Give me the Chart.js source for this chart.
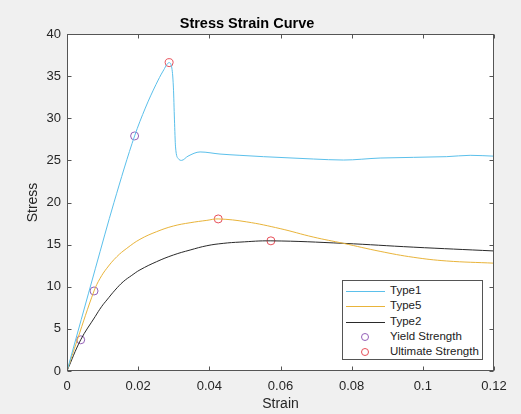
<!DOCTYPE html>
<html>
<head>
<meta charset="utf-8">
<script src="https://cdn.jsdelivr.net/npm/chart.js@4/dist/chart.umd.min.js"></script>
<style>
  html, body { margin: 0; padding: 0; background: #F0F0F0; }
  #wrap { position: relative; width: 521px; height: 414px; }
  #legend { position: absolute; left: 342px; top: 280px; width: 141px; height: 80px;
    background: #fff; border: 1px solid #555; box-sizing: border-box;
    font-family: 'Liberation Sans', Arial, sans-serif; font-size: 11.5px; color: #222; }
  .row { position: absolute; left: 0; height: 14px; width: 140px; }
  .row .ln { position: absolute; left: 3px; top: 6px; width: 39px; height: 0; border-top: 1px solid; }
  .row .mk { position: absolute; left: 18px; top: 2px; width: 8px; height: 8px; border-radius: 50%; border: 1px solid; box-sizing: border-box; }
  .row .tx { position: absolute; left: 47px; top: -1px; white-space: nowrap; }
</style>
</head>
<body>
<div id="wrap">
  <canvas id="c" width="521" height="414"></canvas>
  <div id="legend"></div>
</div>
<script>
// ---- data ----
const type1X = [0, 0.004, 0.008, 0.0132, 0.019, 0.022, 0.025, 0.027, 0.0287, 0.0294, 0.0299, 0.0302, 0.0305, 0.0313, 0.0322, 0.034, 0.0374, 0.043, 0.0486, 0.0552, 0.0693, 0.0777, 0.088, 0.1067, 0.1133, 0.12];
const type1Y = [0, 6.1, 12.2, 20, 27.9, 31.2, 34.0, 35.6, 36.6, 36.1, 33.7, 29.8, 26.6, 25.2, 25.0, 25.5, 26.0, 25.75, 25.6, 25.44, 25.16, 25.04, 25.28, 25.44, 25.6, 25.5];
const type5X = [0, 0.0029, 0.0076, 0.0093, 0.0112, 0.014, 0.0168, 0.0205, 0.0252, 0.0299, 0.0346, 0.0393, 0.0425, 0.0505, 0.0599, 0.0692, 0.0777, 0.088, 0.0973, 0.1067, 0.12];
const type5Y = [0, 3.7, 9.5, 11.0, 12.2, 13.57, 14.56, 15.63, 16.54, 17.21, 17.6, 17.88, 18.05, 17.7, 16.9, 15.9, 15.15, 14.2, 13.5, 13.06, 12.8];
const type2X = [0, 0.00385, 0.0079, 0.0097, 0.0112, 0.0135, 0.0158, 0.0182, 0.0205, 0.0252, 0.0299, 0.0346, 0.0393, 0.0439, 0.0486, 0.0573, 0.0777, 0.0973, 0.12];
const type2Y = [0, 3.7, 6.45, 7.63, 8.43, 9.6, 10.6, 11.35, 12.0, 12.98, 13.77, 14.36, 14.87, 15.15, 15.3, 15.45, 15.15, 14.7, 14.25];
const yieldX = [0.019, 0.0076, 0.00385];
const yieldY = [27.9, 9.5, 3.7];
const ultX = [0.0287, 0.0425, 0.0573];
const ultY = [36.6, 18.05, 15.45];
const xTicks = [0, 0.02, 0.04, 0.06, 0.08, 0.1, 0.12];
const yTicks = [0, 5, 10, 15, 20, 25, 30, 35, 40];
const seriesNames = ['Type1', 'Type5', 'Type2', 'Yield Strength', 'Ultimate Strength'];
const colors = ['#5BC0EB', '#E9B43A', '#2a2a2a', '#9460B8', '#E8505A'];

const pts = (xs, ys) => xs.map((x, i) => ({x: x, y: ys[i]}));
const FONT = "'Liberation Sans', Arial, sans-serif";

const lineDs = (label, data, color, mono) => ({
  label, data, borderColor: color, borderWidth: 1, showLine: true, pointRadius: 0,
  cubicInterpolationMode: mono ? 'monotone' : 'default', tension: 0.4, fill: false
});
const markDs = (label, data, color) => ({
  label, data, borderColor: color, backgroundColor: 'rgba(0,0,0,0)', borderWidth: 1,
  showLine: false, pointRadius: 4, pointStyle: 'circle'
});

const boxPlugin = {
  id: 'box',
  beforeDraw(chart) {
    const {ctx, chartArea: a} = chart;
    ctx.save(); ctx.fillStyle = '#fff';
    ctx.fillRect(a.left, a.top, a.right - a.left, a.bottom - a.top);
    ctx.restore();
  },
  afterDraw(chart) {
    const {ctx, chartArea: a, scales} = chart;
    ctx.save();
    ctx.strokeStyle = '#555'; ctx.lineWidth = 1;
    const L = Math.round(a.left) + 0.5, R = Math.round(a.right) - 0.5, T = Math.round(a.top) + 0.5, B = Math.round(a.bottom) - 0.5;
    ctx.strokeRect(L, T, R - L, B - T);
    ctx.beginPath();
    const tl = 4;
    scales.x.ticks.forEach(t => {
      const px = Math.round(scales.x.getPixelForValue(t.value)) + 0.5;
      ctx.moveTo(px, B); ctx.lineTo(px, B - tl);
      ctx.moveTo(px, T); ctx.lineTo(px, T + tl);
    });
    scales.y.ticks.forEach(t => {
      const py = Math.round(scales.y.getPixelForValue(t.value)) + 0.5;
      ctx.moveTo(L, py); ctx.lineTo(L + tl, py);
      ctx.moveTo(R, py); ctx.lineTo(R - tl, py);
    });
    ctx.stroke();
    ctx.restore();
  }
};

new Chart(document.getElementById('c'), {
  type: 'scatter',
  data: {
    datasets: [
      lineDs(seriesNames[0], pts(type1X, type1Y), colors[0], true),
      lineDs(seriesNames[1], pts(type5X, type5Y), colors[1], false),
      lineDs(seriesNames[2], pts(type2X, type2Y), colors[2], false),
      markDs(seriesNames[3], pts(yieldX, yieldY), colors[3]),
      markDs(seriesNames[4], pts(ultX, ultY), colors[4])
    ]
  },
  options: {
    responsive: false, animation: false, devicePixelRatio: 1,
    layout: { padding: { left: 0, right: 27, top: 0, bottom: 0 } },
    plugins: {
      legend: { display: false },
      tooltip: { enabled: false },
      title: { display: true, text: 'Stress Strain Curve', color: '#000',
        font: { family: FONT, size: 14.5, weight: 'bold' }, padding: { top: 15.3, bottom: 1.3 } }
    },
    scales: {
      x: {
        type: 'linear', min: 0, max: 0.12,
        afterBuildTicks: s => { s.ticks = xTicks.map(v => ({value: v})); },
        afterFit: s => { s.height = 43; },
        grid: { display: false, drawTicks: false }, border: { display: false },
        ticks: { color: '#262626', padding: 8, font: { family: FONT, size: 13 },
          callback: v => String(+v.toFixed(2)), maxRotation: 0 },
        title: { display: true, text: 'Strain', color: '#262626', font: { family: FONT, size: 14 }, padding: { top: 0, bottom: 1.3 } }
      },
      y: {
        type: 'linear', min: 0, max: 40,
        afterBuildTicks: s => { s.ticks = yTicks.map(v => ({value: v})); },
        afterFit: s => { s.width = 67; },
        grid: { display: false, drawTicks: false }, border: { display: false },
        ticks: { color: '#262626', padding: 6, font: { family: FONT, size: 13 } },
        title: { display: true, text: 'Stress', color: '#262626', font: { family: FONT, size: 14 }, padding: { top: 24.6, bottom: 0 } }
      }
    }
  },
  plugins: [boxPlugin]
});

// legend (HTML overlay)
const leg = document.getElementById('legend');
seriesNames.forEach((name, i) => {
  const row = document.createElement('div');
  row.className = 'row';
  row.style.top = (4 + i * 15.3) + 'px';
  const sym = document.createElement('div');
  sym.className = i < 3 ? 'ln' : 'mk';
  sym.style.borderColor = colors[i];
  const tx = document.createElement('div');
  tx.className = 'tx'; tx.textContent = name;
  row.appendChild(sym); row.appendChild(tx);
  leg.appendChild(row);
});
</script>
</body>
</html>
